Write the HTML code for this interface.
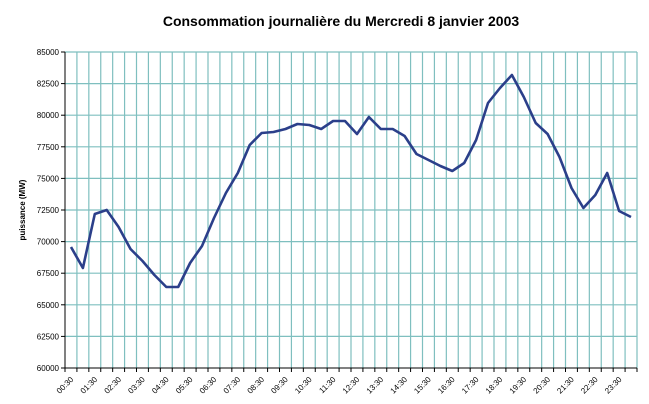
<!DOCTYPE html>
<html><head><meta charset="utf-8"><style>
body{margin:0;background:#fff;}
svg{display:block;font-family:"Liberation Sans",Arial,sans-serif;}
</style></head><body>
<svg width="649" height="404" viewBox="0 0 649 404" xmlns="http://www.w3.org/2000/svg">
<text x="341" y="26" text-anchor="middle" font-size="14" font-weight="bold">Consommation journalière du Mercredi 8 janvier 2003</text>
<text transform="translate(25,210) rotate(-90)" text-anchor="middle" font-size="8" font-weight="bold">puissance (MW)</text>
<g id="grid" stroke="#7fbfbf" stroke-width="1.2"></g>
<g id="axes" stroke="#000" stroke-width="1"></g>
<g id="labels" font-size="8" fill="#000"></g>
<polyline id="line" fill="none" stroke="#2b3f8a" stroke-width="2.6" stroke-linejoin="round"></polyline>
</svg>
<script>
var ns="http://www.w3.org/2000/svg";
var x0=65,x1=637,y0=52,y1=368,n=48,dx=(x1-x0)/n;
var g=document.getElementById("grid"),a=document.getElementById("axes"),L=document.getElementById("labels");
function el(p,t,o){var e=document.createElementNS(ns,t);for(var k in o)e.setAttribute(k,o[k]);p.appendChild(e);return e;}
for(var i=1;i<=n;i++){var x=x0+i*dx;el(g,"line",{x1:x,y1:y0,x2:x,y2:y1});}
for(var j=0;j<10;j++){var y=y0+j*(y1-y0)/10;el(g,"line",{x1:x0,y1:y,x2:x1,y2:y});}
el(a,"line",{x1:x0,y1:y0,x2:x0,y2:y1});el(a,"line",{x1:x0,y1:y1,x2:x1,y2:y1});
for(var j=0;j<=10;j++){var y=y0+j*(y1-y0)/10;el(a,"line",{x1:x0-4,y1:y,x2:x0,y2:y});
var t=el(L,"text",{x:x0-6,y:y+3,"text-anchor":"end"});t.textContent=String(85000-j*2500);}
for(var i=0;i<=n;i++){var x=x0+i*dx;el(a,"line",{x1:x,y1:y1,x2:x,y2:y1+4});}
for(var h=0;h<24;h++){var x=x0+(2*h+0.5)*dx;var t=el(L,"text",{transform:"translate("+(x+3)+","+(y1+12)+") rotate(-45)","text-anchor":"end"});t.textContent=(h<10?"0":"")+h+":30";}
var ys=[247,268,214,210,227,249,261,275,287,287,263,246,218,193,173,145,133,132,129,124,125,129,121,121,134,117,129,129,136,154,160,166,171,163,140,103,88,75,97,123,134,157,188,208,195,173,211,217];
var pts=ys.map(function(y,i){return (x0+(i+0.5)*dx).toFixed(1)+","+y;}).join(" ");
document.getElementById("line").setAttribute("points",pts);
</script>
</body></html>
